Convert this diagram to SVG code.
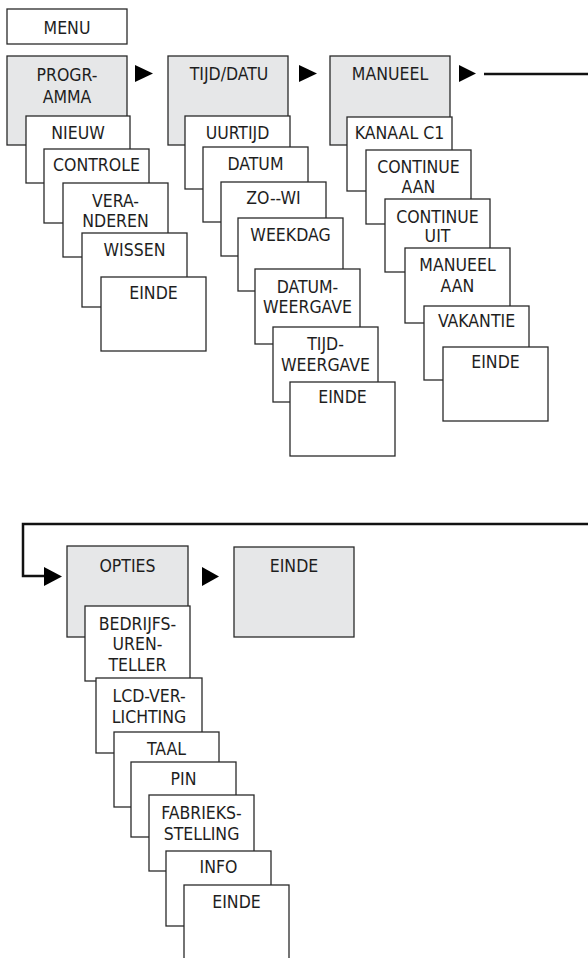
<svg xmlns="http://www.w3.org/2000/svg" width="588" height="958" viewBox="0 0 588 958">
<style>
.bx{fill:#ffffff;stroke:#2a2a2a;stroke-width:1.3}
.gr{fill:#e6e7e8;stroke:#2a2a2a;stroke-width:1.3}
text{font-family:"DejaVu Sans Condensed","DejaVu Sans","Liberation Sans",sans-serif;font-stretch:condensed;font-size:17.5px;fill:#1e1e1e;text-anchor:middle}
.ln{fill:none;stroke:#111;stroke-width:2.5}
.ah{fill:#000}
</style>
<rect width="588" height="958" fill="#ffffff"/>
<g id="connectors">
<polygon class="ah" points="135,65 153,73.5 135,82"/>
<polygon class="ah" points="299,65 317,73.5 299,82"/>
<polygon class="ah" points="459,65 476,73.5 459,82"/>
<polyline class="ln" points="484,74 592,74"/>
<polyline class="ln" points="592,524 23,524 23,576 46,576"/>
<polygon class="ah" points="44,567 62,576.5 44,586"/>
<polygon class="ah" points="202,567 219,576.5 202,586"/>
</g>
<g id="menu"><rect class="bx" x="7" y="9" width="120" height="35"/><text x="67" y="34">MENU</text></g>
<g id="programma"><rect class="gr" x="7" y="56" width="120" height="89"/><text x="67" y="81">PROGR-</text><text x="67" y="103">AMMA</text></g>
<g id="nieuw"><rect class="bx" x="26" y="116" width="104" height="67"/><text x="78" y="139">NIEUW</text></g>
<g id="controle"><rect class="bx" x="44" y="149" width="105" height="74"/><text x="96.5" y="171">CONTROLE</text></g>
<g id="veranderen"><rect class="bx" x="63" y="183" width="105" height="74"/><text x="115.5" y="207">VERA-</text><text x="115.5" y="227">NDEREN</text></g>
<g id="wissen"><rect class="bx" x="82" y="233" width="105" height="74"/><text x="134.5" y="256">WISSEN</text></g>
<g id="einde1"><rect class="bx" x="101" y="277" width="105" height="74"/><text x="153.5" y="299">EINDE</text></g>
<g id="tijddatu"><rect class="gr" x="168" y="56" width="120" height="89"/><text x="229" y="80">TIJD/DATU</text></g>
<g id="uurtijd"><rect class="bx" x="185" y="116" width="105" height="73"/><text x="237.5" y="139">UURTIJD</text></g>
<g id="datum"><rect class="bx" x="203" y="147" width="105" height="75"/><text x="255.5" y="170">DATUM</text></g>
<g id="zowi"><rect class="bx" x="221" y="182" width="105" height="74"/><text x="273.5" y="204">ZO--WI</text></g>
<g id="weekdag"><rect class="bx" x="238" y="218" width="105" height="73"/><text x="290.5" y="241">WEEKDAG</text></g>
<g id="datumweergave"><rect class="bx" x="255" y="269" width="105" height="75"/><text x="307.5" y="293">DATUM-</text><text x="307.5" y="313">WEERGAVE</text></g>
<g id="tijdweergave"><rect class="bx" x="273" y="327" width="105" height="75"/><text x="325.5" y="350">TIJD-</text><text x="325.5" y="371">WEERGAVE</text></g>
<g id="einde2"><rect class="bx" x="290" y="382" width="105" height="74"/><text x="342.5" y="403">EINDE</text></g>
<g id="manueel"><rect class="gr" x="330" y="56" width="120" height="89"/><text x="390" y="80">MANUEEL</text></g>
<g id="kanaal"><rect class="bx" x="347" y="117" width="105" height="74"/><text x="399.5" y="139">KANAAL C1</text></g>
<g id="contaan"><rect class="bx" x="366" y="150" width="105" height="74"/><text x="418.5" y="173">CONTINUE</text><text x="418.5" y="193">AAN</text></g>
<g id="contuit"><rect class="bx" x="385" y="199" width="105" height="73"/><text x="437.5" y="223">CONTINUE</text><text x="437.5" y="242">UIT</text></g>
<g id="manaan"><rect class="bx" x="405" y="248" width="105" height="75"/><text x="457.5" y="271">MANUEEL</text><text x="457.5" y="292">AAN</text></g>
<g id="vakantie"><rect class="bx" x="424" y="306" width="105" height="74"/><text x="476.5" y="327">VAKANTIE</text></g>
<g id="einde3"><rect class="bx" x="443" y="347" width="105" height="74"/><text x="495.5" y="368">EINDE</text></g>
<g id="opties"><rect class="gr" x="67" y="546" width="121" height="91"/><text x="127.5" y="572">OPTIES</text></g>
<g id="einde4"><rect class="gr" x="234" y="547" width="120" height="90"/><text x="294" y="572">EINDE</text></g>
<g id="bedrijf"><rect class="bx" x="85" y="606" width="105" height="75"/><text x="137.5" y="630">BEDRIJFS-</text><text x="137.5" y="650">UREN-</text><text x="137.5" y="671">TELLER</text></g>
<g id="lcd"><rect class="bx" x="96" y="678" width="106" height="75"/><text x="149" y="702">LCD-VER-</text><text x="149" y="723">LICHTING</text></g>
<g id="taal"><rect class="bx" x="114" y="732" width="105" height="75"/><text x="166.5" y="755">TAAL</text></g>
<g id="pin"><rect class="bx" x="131" y="762" width="105" height="75"/><text x="183.5" y="785">PIN</text></g>
<g id="fabriek"><rect class="bx" x="149" y="795" width="105" height="76"/><text x="201.5" y="819">FABRIEKS-</text><text x="201.5" y="840">STELLING</text></g>
<g id="info"><rect class="bx" x="166" y="851" width="105" height="75"/><text x="218.5" y="873">INFO</text></g>
<g id="einde5"><rect class="bx" x="184" y="885" width="105" height="80"/><text x="236.5" y="908">EINDE</text></g>
</svg>
